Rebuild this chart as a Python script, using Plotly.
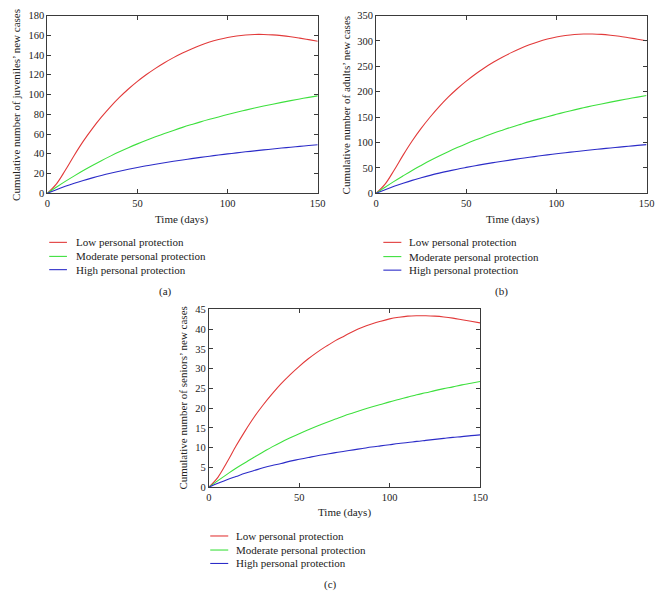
import plotly.graph_objects as go

W, H = 669, 612

days = [0, 5, 10, 15, 20, 25, 30, 35, 40, 45, 50, 55, 60, 65, 70, 75, 80, 85, 90, 95,
        100, 105, 110, 115, 120, 125, 130, 135, 140, 145, 150]

series_names = ["Low personal protection", "Moderate personal protection", "High personal protection"]

# Panel (a): juveniles
juv_low = [0, 9.25, 23.25, 38.5, 52.75, 65.5, 77, 87.5, 97, 105.55, 113.25, 120.2, 126.5, 132.2, 137.35,
           142, 146.2, 149.9, 153.1, 155.7, 157.8, 159.3, 160.3, 160.8, 160.8, 160.4, 159.6, 158.5, 157.1,
           155.6, 154]
juv_mod = [0, 6.1, 12, 17.6, 23, 28.1, 33, 37.6, 42, 46.1, 50, 53.7, 57.15, 60.5, 63.65, 66.7, 69.55,
           72.3, 74.85, 77.3, 79.7, 82, 84.2, 86.3, 88.3, 90.2, 92.05, 93.8, 95.5, 97.1, 98.65]
juv_high = [0, 3.6, 7, 10.1, 13, 15.6, 18.05, 20.3, 22.35, 24.3, 26.1, 27.8, 29.4, 30.9, 32.35, 33.7,
            35.05, 36.3, 37.55, 38.7, 39.85, 40.9, 41.95, 42.9, 43.9, 44.8, 45.75, 46.6, 47.5, 48.3, 49.15]

# Panel (b): adults
adu_low = [0, 18, 45.4, 75.1, 102.9, 127.7, 150.2, 170.6, 189.2, 205.8, 220.8, 234.4, 246.7, 257.8,
           267.8, 276.9, 285.1, 292.3, 298.5, 303.6, 307.7, 310.6, 312.6, 313.6, 313.6, 312.8, 311.2,
           309.1, 306.3, 303.4, 300.3]
adu_mod = [0, 11.9, 23.4, 34.3, 44.9, 54.8, 64.4, 73.3, 81.9, 89.9, 97.5, 104.7, 111.4, 118, 124.1,
           130.1, 135.6, 141, 146, 150.7, 155.4, 159.9, 164.2, 168.3, 172.2, 175.9, 179.5, 182.9, 186.2,
           189.3, 192.4]
adu_high = [0, 7, 13.7, 19.7, 25.4, 30.4, 35.2, 39.6, 43.6, 47.4, 50.9, 54.2, 57.3, 60.3, 63.1, 65.7,
            68.3, 70.8, 73.2, 75.5, 77.7, 79.8, 81.8, 83.7, 85.6, 87.4, 89.2, 90.9, 92.6, 94.2, 95.8]

# Panel (c): seniors
sen_low = [0, 2.5, 6.3, 10.4, 14.2, 17.7, 20.8, 23.6, 26.2, 28.5, 30.6, 32.5, 34.2, 35.7, 37.1, 38.3,
           39.5, 40.5, 41.3, 42, 42.6, 43, 43.3, 43.4, 43.4, 43.3, 43.1, 42.8, 42.4, 42, 41.6]
sen_mod = [0, 1.65, 3.25, 4.8, 6.2, 7.6, 8.9, 10.2, 11.4, 12.5, 13.55, 14.55, 15.5, 16.4, 17.25, 18.1,
           18.85, 19.6, 20.3, 20.95, 21.6, 22.2, 22.8, 23.4, 23.9, 24.45, 24.95, 25.4, 25.9, 26.3, 26.75]
sen_high = [0, 0.97, 1.9, 2.7, 3.5, 4.2, 4.9, 5.5, 6.0, 6.6, 7.05, 7.5, 7.95, 8.35, 8.75, 9.1, 9.45,
            9.8, 10.15, 10.45, 10.75, 11.05, 11.3, 11.6, 11.85, 12.1, 12.35, 12.6, 12.8, 13.05, 13.25]

x_ticks = [0, 50, 100, 150]
juv_ticks = [0, 20, 40, 60, 80, 100, 120, 140, 160, 180]
adu_ticks = [0, 50, 100, 150, 200, 250, 300, 350]
sen_ticks = [0, 5, 10, 15, 20, 25, 30, 35, 40, 45]

x_title = "Time (days)"
y_titles = ["Cumulative number of juveniles’ new cases",
            "Cumulative number of adults’ new cases",
            "Cumulative number of seniors’ new cases"]
panel_labels = ["(a)", "(b)", "(c)"]

colors = ["#e23a3a", "#3ee03e", "#2c2cc8"]
FONT = "Liberation Serif, Times New Roman, serif"
TXT = "#222222"
AX = "#3a3a3a"

# pixel geometry (left, right, top, bottom) of each plot area
boxes = [(45, 320, 10.7, 191.7), (379.3, 654.3, 10.7, 191.7), (209.3, 485, 310, 491)]
panels = [
    (juv_low, juv_mod, juv_high, juv_ticks),
    (adu_low, adu_mod, adu_high, adu_ticks),
    (sen_low, sen_mod, sen_high, sen_ticks),
]

def px(x):
    return x / W

def py(y):
    return 1 - y / H

fig = go.Figure()
layout = dict(
    width=W, height=H,
    margin=dict(l=0, r=0, t=0, b=0),
    paper_bgcolor="white", plot_bgcolor="white",
    showlegend=False,
    font=dict(family=FONT, color=TXT, size=11),
)
annotations = []
shapes = []

for i, ((low, mod, high, yt), (l, r, t, b)) in enumerate(zip(panels, boxes)):
    sfx = "" if i == 0 else str(i + 1)
    for name, vals, c in zip(series_names, (low, mod, high), colors):
        fig.add_trace(go.Scatter(x=days, y=vals, mode="lines", name=name,
                                 line=dict(color=c, width=1.1, shape="spline"),
                                 xaxis="x" + sfx, yaxis="y" + sfx, hoverinfo="skip"))
    axcommon = dict(showline=True, linecolor=AX, linewidth=1, mirror="ticks", ticks="inside",
                    ticklen=4, tickcolor=AX, showgrid=False, zeroline=False,
                    tickfont=dict(family=FONT, size=10.5, color=TXT))
    layout["xaxis" + sfx] = dict(domain=[px(l), px(r)], range=[0, 150], tickvals=x_ticks,
                                 anchor="y" + sfx, **axcommon)
    layout["yaxis" + sfx] = dict(domain=[py(b), py(t)], range=[0, yt[-1]], tickvals=yt,
                                 anchor="x" + sfx, **axcommon)

titles_pos = [(181.7, 218.3), (517.7, 218.3), (347.3, 516.7)]
ytitle_pos = [(13.3, 101.7), (348.3, 101.7), (183.3, 400.5)]
label_pos = [(165.7, 291.7), (506.7, 291.7), (333.3, 590)]
legend_pos = [((47, 65, 72), (241.7, 256, 269.5)),
              ((386.7, 405, 411), (241.7, 256.2, 270)),
              ((210.7, 229, 235), (540.7, 555, 568.7))]

for i in range(3):
    annotations.append(dict(text=x_title, x=px(titles_pos[i][0]), y=py(titles_pos[i][1]), xref="paper", yref="paper",
                            showarrow=False, xanchor="center", yanchor="middle", font=dict(size=11)))
    annotations.append(dict(text=y_titles[i], x=px(ytitle_pos[i][0]), y=py(ytitle_pos[i][1]), xref="paper",
                            yref="paper", showarrow=False, textangle=-90, xanchor="center", yanchor="middle",
                            font=dict(size=11)))
    annotations.append(dict(text=panel_labels[i], x=px(label_pos[i][0]), y=py(label_pos[i][1]), xref="paper",
                            yref="paper", showarrow=False, xanchor="center", yanchor="middle", font=dict(size=11)))
    (x0, x1, xt), ys = legend_pos[i]
    for name, c, yy in zip(series_names, colors, ys):
        shapes.append(dict(type="line", xref="paper", yref="paper", x0=px(x0), x1=px(x1), y0=py(yy), y1=py(yy),
                           line=dict(color=c, width=1.1)))
        annotations.append(dict(text=name, x=px(xt), y=py(yy), xref="paper", yref="paper", showarrow=False,
                                xanchor="left", yanchor="middle", font=dict(size=11)))

layout["annotations"] = annotations
layout["shapes"] = shapes
fig.update_layout(**layout)
fig.write_html("out.html", config={"displayModeBar": False},
               post_script="document.body.style.margin='0px';")
